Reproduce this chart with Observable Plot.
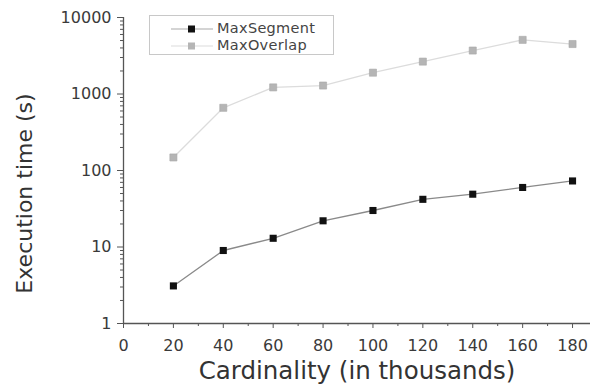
<!DOCTYPE html>
<html>
<head>
<meta charset="utf-8">
<script src="https://cdn.jsdelivr.net/npm/d3@7"></script>
<script src="https://cdn.jsdelivr.net/npm/@observablehq/plot@0.6"></script>
<style>
  body { margin: 0; background: #fff; }
  #wrap { position: relative; width: 590px; height: 386px; font-family: "DejaVu Sans", sans-serif; }
  #legend { position: absolute; left: 149px; top: 15px; width: 183px; height: 38px; border: 1px solid #c8c8c8; background: #fff; }
  .row { position: absolute; left: 0; height: 17px; line-height: 17px; display: flex; align-items: center; font-size: 14.5px; color: #444; }
  .row span { line-height: 17px; letter-spacing: 0.3px; }
  .row svg { margin-left: 21px; margin-right: 4px; }
</style>
</head>
<body>
<div id="wrap"></div>
<script>
const cardinality = [20, 40, 60, 80, 100, 120, 140, 160, 180];
const maxSegment = [3.1, 9, 13, 22, 30, 42, 49, 60, 73];
const maxOverlap = [148, 660, 1220, 1290, 1900, 2650, 3700, 5100, 4500];
const seriesNames = ["MaxSegment", "MaxOverlap"];
const yMajor = [1, 10, 100, 1000, 10000];
const xMajor = [0, 20, 40, 60, 80, 100, 120, 140, 160, 180];
const xMinor = [10, 30, 50, 70, 90, 110, 130, 150, 170];
const yMinor = [];
for (const d of [1, 10, 100, 1000]) for (let k = 2; k <= 9; k++) yMinor.push(d * k);

const lineColors = ["#8a8a8a", "#dcdcdc"];
const dotColors = ["#111111", "#b5b5b5"];

const seg = cardinality.map((c, i) => ({x: c, y: maxSegment[i]}));
const ovl = cardinality.map((c, i) => ({x: c, y: maxOverlap[i]}));

const chart = Plot.plot({
  width: 590,
  height: 386,
  marginLeft: 123,
  marginRight: 0,
  marginTop: 17,
  marginBottom: 63,
  style: {fontFamily: "DejaVu Sans, sans-serif", background: "#fff"},
  x: {domain: [0, 187.2]},
  y: {type: "log", domain: [1, 10000]},
  marks: [
    Plot.axisY({ticks: yMinor, tickSize: 3, fill: "none", stroke: "#555", label: null}),
    Plot.axisY({ticks: yMajor, tickSize: 6, tickPadding: 6, tickFormat: d => String(d), fontSize: 16, fill: "#3a3a3a", stroke: "#555", label: null}),
    Plot.axisX({ticks: xMinor, tickSize: 3, fill: "none", stroke: "#555", label: null}),
    Plot.axisX({ticks: xMajor, tickSize: 5, tickPadding: 11, tickFormat: d => String(d), fontSize: 16, fill: "#3a3a3a", stroke: "#555", label: null}),
    Plot.ruleX([0], {stroke: "#555", strokeWidth: 1.3}),
    Plot.ruleY([1], {stroke: "#555", strokeWidth: 1.3}),
    Plot.line(ovl, {x: "x", y: "y", stroke: lineColors[1], strokeWidth: 1.3}),
    Plot.dot(ovl, {x: "x", y: "y", symbol: "square", r: 4, fill: dotColors[1], stroke: "#a8a8a8", strokeWidth: 0.6}),
    Plot.line(seg, {x: "x", y: "y", stroke: lineColors[0], strokeWidth: 1.3}),
    Plot.dot(seg, {x: "x", y: "y", symbol: "square", r: 4, fill: dotColors[0]}),
    Plot.text(["Cardinality (in thousands)"], {frameAnchor: "bottom", dy: 55, fontSize: 24.5, fill: "#333"}),
    Plot.text(["Execution time (s)"], {frameAnchor: "left", textAnchor: "middle", dx: -99, dy: 23, rotate: -90, fontSize: 22, fill: "#333"})
  ]
});

const wrap = document.getElementById("wrap");
wrap.appendChild(chart);

const legend = document.createElement("div");
legend.id = "legend";
seriesNames.forEach((name, i) => {
  const row = document.createElement("div");
  row.className = "row";
  row.style.top = (i === 0 ? 4 : 21) + "px";
  row.innerHTML = `<svg width="42" height="10"><line x1="0" y1="5" x2="42" y2="5" stroke="${i === 0 ? "#aaa" : "#dcdcdc"}" stroke-width="1.2"/><rect x="17" y="1.5" width="7" height="7" fill="${dotColors[i]}"/></svg><span>${name}</span>`;
  legend.appendChild(row);
});
wrap.appendChild(legend);
</script>
</body>
</html>
